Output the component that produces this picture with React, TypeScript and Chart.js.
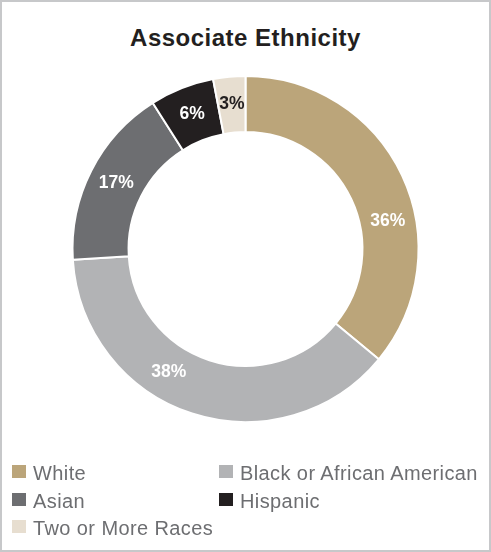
import { useEffect, useRef } from "react";
import { Chart, Plugin, registerables } from "chart.js";

Chart.register(...registerables);

const categories = [
  "White",
  "Black or African American",
  "Asian",
  "Hispanic",
  "Two or More Races",
];
const shares = [36, 38, 17, 6, 3];
const sliceColors = ["#bba57a", "#b2b3b5", "#6d6e71", "#231f20", "#e7ded0"];
const labelColors = ["#ffffff", "#ffffff", "#ffffff", "#ffffff", "#231f20"];
// the reference nudges two of the labels clockwise off the slice middle
const labelShiftDeg = [14, 14, 0, 0, 0];

const FONT = "'Liberation Sans', Arial, Helvetica, sans-serif";

const sliceLabels: Plugin<"doughnut"> = {
  id: "sliceLabels",
  afterDatasetsDraw(chart) {
    const { ctx } = chart;
    const meta = chart.getDatasetMeta(0);
    ctx.save();
    ctx.font = `bold 17.5px ${FONT}`;
    ctx.textAlign = "center";
    ctx.textBaseline = "middle";
    meta.data.forEach((arc, i) => {
      const { x, y, startAngle, endAngle, innerRadius, outerRadius } = arc.getProps(
        ["x", "y", "startAngle", "endAngle", "innerRadius", "outerRadius"],
        true
      ) as any;
      const a = (startAngle + endAngle) / 2 + (labelShiftDeg[i] * Math.PI) / 180;
      const r = (innerRadius + outerRadius) / 2;
      ctx.fillStyle = labelColors[i];
      ctx.fillText(`${shares[i]}%`, x + Math.cos(a) * r, y + Math.sin(a) * r);
    });
    ctx.restore();
  },
};

function Doughnut() {
  const canvasRef = useRef<HTMLCanvasElement>(null);
  const chartRef = useRef<Chart | null>(null);

  useEffect(() => {
    if (!canvasRef.current) return;
    if (chartRef.current) chartRef.current.destroy();

    chartRef.current = new Chart(canvasRef.current, {
      type: "doughnut",
      data: {
        labels: categories,
        datasets: [
          {
            data: shares,
            backgroundColor: sliceColors,
            borderColor: "#ffffff",
            borderWidth: 2,
            radius: 173,
            cutout: "67.6%",
          } as any,
        ],
      },
      options: {
        animation: false,
        responsive: true,
        maintainAspectRatio: false,
        layout: { padding: 0 },
        plugins: {
          legend: { display: false },
          tooltip: { enabled: false },
          title: { display: false },
        },
      },
      plugins: [sliceLabels],
    });

    return () => {
      if (chartRef.current) {
        chartRef.current.destroy();
        chartRef.current = null;
      }
    };
  }, []);

  return <canvas ref={canvasRef} />;
}

export default function App() {
  return (
    <div
      style={{
        position: "absolute",
        left: 0,
        top: 0,
        width: 491,
        height: 552,
        background: "#ffffff",
        outline: "2px solid #c7c8ca",
        outlineOffset: -2,
        fontFamily: FONT,
        overflow: "hidden",
      }}
    >
      <div
        style={{
          position: "absolute",
          left: 0,
          top: 26,
          width: 491,
          textAlign: "center",
          fontSize: 24,
          lineHeight: "24px",
          fontWeight: "bold",
          letterSpacing: 0.5,
          color: "#231f20",
        }}
      >
        Associate Ethnicity
      </div>
      <div style={{ position: "absolute", left: 0, top: 0, width: 491, height: 498 }}>
        <Doughnut />
      </div>
      <div
        style={{
          position: "absolute",
          left: 12,
          top: 460,
          display: "grid",
          gridTemplateColumns: "207px auto",
          gridAutoRows: "27.7px",
        }}
      >
        {categories.map((c, i) => (
          <div key={c} style={{ display: "flex", alignItems: "flex-start" }}>
            <span
              style={{
                width: 14,
                height: 13,
                marginTop: 5,
                marginRight: 7,
                background: sliceColors[i],
                flex: "none",
              }}
            />
            <span
              style={{
                fontSize: 20,
                lineHeight: "27.7px",
                letterSpacing: 0.4,
                color: "#6d6e71",
                whiteSpace: "nowrap",
              }}
            >
              {c}
            </span>
          </div>
        ))}
      </div>
    </div>
  );
}
